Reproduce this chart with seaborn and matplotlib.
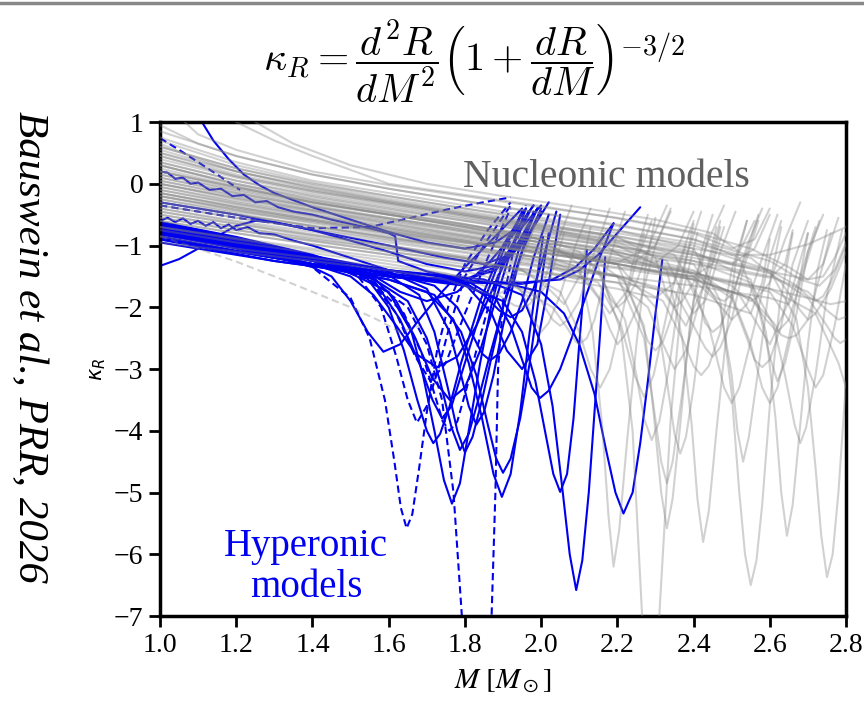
import matplotlib
matplotlib.use("Agg")
import matplotlib.pyplot as plt
from matplotlib.lines import Line2D
import pandas as pd
import seaborn as sns

# ---------------- data ----------------
x_ticks = [1.0, 1.2, 1.4, 1.6, 1.8, 2.0, 2.2, 2.4, 2.6, 2.8]
y_ticks = [1, 0, -1, -2, -3, -4, -5, -6, -7]

# Nucleonic models (gray): mass grid and curvature values of each model
nuc_mass = [
    [1.03, 1.1, 1.2, 1.4, 1.6, 1.8, 2.0, 2.2, 2.4, 2.55, 2.65, 2.7, 2.74, 2.77, 2.8],
    [1.0, 1.1, 1.2, 1.4, 1.6, 1.8, 2.0, 2.2, 2.4, 2.6, 2.68, 2.73, 2.77, 2.8],
    [1.0, 1.2, 1.4, 1.6, 1.8, 2.0, 2.2, 2.4, 2.47, 2.5, 2.52, 2.535, 2.55, 2.565, 2.58, 2.6, 2.625, 2.66],
    [1.0, 1.2, 1.4, 1.6, 1.8, 2.0, 2.2, 2.4, 2.6, 2.67, 2.7, 2.72, 2.735, 2.75, 2.765, 2.78, 2.8],
    [1.0, 1.2, 1.4, 1.6, 1.8, 2.0, 2.2, 2.4, 2.55, 2.59, 2.615, 2.63, 2.645, 2.66, 2.68, 2.7, 2.725, 2.75],
    [1.0, 1.2, 1.4, 1.6, 1.8, 2.0, 2.2, 2.33, 2.37, 2.395, 2.41, 2.425, 2.44, 2.46, 2.485, 2.51, 2.54],
    [1.0, 1.2, 1.4, 1.6, 1.8, 2.0, 2.1, 2.135, 2.16, 2.177, 2.19, 2.205, 2.225, 2.25, 2.275, 2.3],
    [1.0, 1.2, 1.4, 1.6, 1.8, 2.0, 2.15, 2.21, 2.24, 2.265, 2.287, 2.31, 2.34, 2.37, 2.41],
    [1.0, 1.2, 1.4, 1.6, 1.8, 2.0, 2.2, 2.27, 2.295, 2.315, 2.33, 2.345, 2.365, 2.39, 2.42, 2.45],
    [1.0, 1.2, 1.4, 1.6, 1.8, 2.0, 2.2, 2.3, 2.33, 2.35, 2.365, 2.38, 2.4, 2.43, 2.47],
    [1.0, 1.2, 1.4, 1.6, 1.8, 2.0, 2.15, 2.22, 2.25, 2.27, 2.29, 2.31, 2.335, 2.365, 2.4],
    [1.0, 1.2, 1.4, 1.6, 1.8, 2.0, 2.2, 2.27, 2.295, 2.315, 2.33, 2.345, 2.37, 2.4, 2.44],
    [1.0, 1.2, 1.4, 1.6, 1.8, 2.0, 2.2, 2.4, 2.55, 2.61, 2.64, 2.665, 2.68, 2.695, 2.72, 2.75, 2.79],
    [1.0, 1.2, 1.4, 1.6, 1.8, 2.0, 2.2, 2.4, 2.5, 2.55, 2.58, 2.6, 2.62, 2.65, 2.68, 2.72],
    [1.0, 1.2, 1.4, 1.6, 1.8, 2.0, 2.2, 2.38, 2.44, 2.48, 2.5, 2.52, 2.56, 2.6, 2.63],
    [1.0, 1.2, 1.4, 1.6, 1.8, 2.0, 2.2, 2.4, 2.5, 2.54, 2.56, 2.58, 2.6, 2.63, 2.66, 2.7],
    [1.0, 1.2, 1.4, 1.6, 1.8, 2.0, 2.2, 2.4, 2.6, 2.7, 2.75, 2.77, 2.785, 2.8],
    [1.0, 1.2, 1.4, 1.6, 1.8, 2.0, 2.2, 2.32, 2.37, 2.4, 2.42, 2.44, 2.47, 2.5, 2.54],
    [1.0, 1.2, 1.4, 1.6, 1.8, 2.0, 2.15, 2.21, 2.245, 2.27, 2.295, 2.33, 2.36, 2.4],
    [1.0, 1.2, 1.4, 1.6, 1.8, 1.95, 2.05, 2.1, 2.13, 2.155, 2.18, 2.21, 2.24, 2.28],
    [1.0, 1.2, 1.4, 1.6, 1.8, 1.95, 2.0, 2.03, 2.05, 2.07, 2.1, 2.14, 2.18],
    [1.0, 1.2, 1.4, 1.6, 1.75, 1.85, 1.9, 1.93, 1.95, 1.97, 2.0, 2.04, 2.08],
    [1.0, 1.2, 1.4, 1.6, 1.8, 2.0, 2.2, 2.4, 2.55, 2.63, 2.68, 2.7, 2.72, 2.76, 2.8],
    [1.0, 1.2, 1.4, 1.6, 1.8, 2.0, 2.2, 2.35, 2.41, 2.43, 2.45, 2.47, 2.5, 2.54, 2.58],
    [1.0, 1.2, 1.4, 1.6, 1.8, 2.0, 2.2, 2.3, 2.33, 2.35, 2.37, 2.4, 2.44, 2.48],
    [1.0, 1.2, 1.4, 1.6, 1.8, 2.0, 2.1, 2.16, 2.18, 2.2, 2.22, 2.25, 2.29, 2.33],
    [1.0, 1.2, 1.4, 1.6, 1.8, 2.0, 2.2, 2.4, 2.5, 2.53, 2.55, 2.57, 2.6, 2.64, 2.68],
    [1.0, 1.2, 1.4, 1.6, 1.8, 2.0, 2.2, 2.4, 2.55, 2.61, 2.63, 2.65, 2.67, 2.7, 2.74, 2.78],
    [1.0, 1.2, 1.4, 1.6, 1.8, 1.95, 2.03, 2.07, 2.09, 2.1, 2.12, 2.14, 2.18, 2.22],
    [1.0, 1.2, 1.4, 1.6, 1.75, 1.82, 1.86, 1.88, 1.9, 1.93, 1.97, 2.0],
    [1.0, 1.2, 1.4, 1.6, 1.8, 2.0, 2.2, 2.38, 2.43, 2.46, 2.48, 2.5, 2.53, 2.57],
    [1.0, 1.2, 1.4, 1.6, 1.8, 2.0, 2.15, 2.22, 2.26, 2.28, 2.3, 2.32, 2.34, 2.38, 2.42],
    [1.0, 1.2, 1.4, 1.6, 1.8, 2.0, 2.2, 2.4, 2.52, 2.57, 2.6, 2.62, 2.64, 2.67, 2.7, 2.74],
    [1.0, 1.2, 1.4, 1.6, 1.8, 2.0, 2.2, 2.4, 2.6, 2.67, 2.7, 2.72, 2.74, 2.76, 2.8],
    [1.0, 1.1, 1.2, 1.3, 1.4, 1.5, 1.57, 1.63, 1.68],
    [1.0, 1.2, 1.4, 1.6, 1.8, 1.95, 2.02, 2.06, 2.1, 2.13],
    [1.0, 1.2, 1.4, 1.6, 1.8, 2.0, 2.12, 2.18, 2.23, 2.27],
    [1.0, 1.2, 1.4, 1.6, 1.8, 2.0, 2.2, 2.32, 2.38, 2.43, 2.47],
    [1.0, 1.2, 1.4, 1.6, 1.8, 2.0, 2.2, 2.4, 2.52, 2.6, 2.65, 2.7],
    [1.0, 1.2, 1.4, 1.6, 1.8, 2.0, 2.2, 2.4, 2.6, 2.72, 2.78, 2.8],
    [1.0, 1.2, 1.4, 1.6, 1.8, 1.92, 1.98, 2.02, 2.06],
    [1.0, 1.1, 1.2, 1.4, 1.6, 1.8, 2.0, 2.15, 2.24, 2.3, 2.34],
    [1.0, 1.2, 1.4, 1.6, 1.8, 2.0, 2.2, 2.4, 2.5, 2.56, 2.6],
    [1.0, 1.2, 1.4, 1.6, 1.8, 2.0, 2.2, 2.3, 2.36, 2.4],
    [1.0, 1.1, 1.2, 1.3, 1.4, 1.6, 1.8, 2.0, 2.2, 2.4, 2.5, 2.56, 2.6],
    [1.0, 1.15, 1.25, 1.35, 1.5, 1.7, 1.9, 2.1, 2.3, 2.45, 2.52, 2.56],
    [1.0, 1.2, 1.4, 1.6, 1.8, 2.0, 2.2, 2.4, 2.5, 2.55, 2.58, 2.6],
    [1.0, 1.2, 1.4, 1.6, 1.8, 2.0, 2.2, 2.4, 2.6, 2.65, 2.68, 2.7],
    [1.0, 1.2, 1.4, 1.6, 1.8, 2.0, 2.2, 2.4, 2.6, 2.7, 2.76, 2.8],
    [1.0, 1.2, 1.4, 1.6, 1.8, 2.0, 2.2, 2.3, 2.35, 2.38],
    [1.0, 1.2, 1.4, 1.6, 1.8, 2.0, 2.2, 2.4, 2.45, 2.48],
    [1.0, 1.2, 1.4, 1.6, 1.8, 2.0, 2.2, 2.4, 2.6, 2.64, 2.66],
    [1.0, 1.2, 1.4, 1.6, 1.8, 2.0, 2.2, 2.4, 2.6, 2.7, 2.74, 2.76],
    [1.0, 1.2, 1.4, 1.6, 1.8, 2.0, 2.1, 2.14, 2.16],
    [1.0, 1.2, 1.4, 1.6, 1.8, 2.0, 2.2, 2.26, 2.29],
    [1.0, 1.2, 1.4, 1.6, 1.8, 2.0, 2.2, 2.35, 2.4, 2.43, 2.45, 2.47, 2.5, 2.53, 2.57],
    [1.0, 1.2, 1.4, 1.6, 1.8, 2.0, 2.2, 2.4, 2.6, 2.66, 2.7, 2.72, 2.74, 2.77, 2.8],
    [1.0, 1.2, 1.4, 1.6, 1.8, 2.0, 2.2, 2.4, 2.47, 2.5, 2.515, 2.53, 2.545, 2.57, 2.6, 2.63],
    [1.0, 1.2, 1.4, 1.6, 1.8, 2.0, 2.2, 2.4, 2.55, 2.59, 2.62, 2.65, 2.69, 2.73],
    [1.0, 1.2, 1.4, 1.6, 1.8, 2.0, 2.2, 2.33, 2.37, 2.4, 2.43, 2.47, 2.51],
    [1.0, 1.2, 1.4, 1.6, 1.8, 2.0, 2.1, 2.15, 2.18, 2.2, 2.22, 2.26, 2.3, 2.34],
    [1.0, 1.2, 1.4, 1.6, 1.8, 1.9, 1.95, 1.98, 2.0, 2.02, 2.05, 2.09, 2.13],
    [1.0, 1.2, 1.4, 1.6, 1.8, 2.0, 2.2, 2.4, 2.6, 2.7, 2.75, 2.78, 2.8],
    [1.0, 1.2, 1.4, 1.6, 1.8, 2.0, 2.2, 2.4, 2.46, 2.5, 2.54, 2.58, 2.62],
    [1.0, 1.2, 1.4, 1.6, 1.8, 2.0, 2.2, 2.4, 2.5, 2.6, 2.7, 2.8],
    [1.0, 1.2, 1.4, 1.6, 1.8, 2.0, 2.2, 2.28, 2.32, 2.35, 2.38, 2.42, 2.46],
]
nuc_kappa = [
    [1.2, 0.8, 0.55, 0.2, -0.02, -0.2, -0.38, -0.55, -0.78, -1.05, -1.35, -1.55, -1.5, -1.2, -0.8],
    [0.95, 0.65, 0.45, 0.15, -0.08, -0.28, -0.47, -0.66, -0.9, -1.25, -1.55, -1.65, -1.4, -0.95],
    [0.75, 0.35, 0.05, -0.15, -0.35, -0.55, -0.75, -1.05, -1.9, -3.4, -5.0, -6.0, -6.5, -6.1, -5.2, -3.6, -2.0, -0.8],
    [0.6, 0.25, 0.0, -0.2, -0.4, -0.6, -0.8, -1.0, -1.4, -2.2, -3.3, -4.6, -5.7, -6.37, -6.0, -5.0, -3.2],
    [0.5, 0.15, -0.1, -0.3, -0.5, -0.68, -0.85, -1.1, -1.55, -2.4, -3.8, -5.0, -5.7, -5.2, -3.9, -2.6, -1.4, -0.75],
    [0.4, 0.1, -0.15, -0.35, -0.55, -0.75, -1.0, -1.4, -2.5, -3.9, -5.1, -5.8, -5.3, -4.0, -2.5, -1.3, -0.6],
    [0.3, 0.0, -0.25, -0.45, -0.65, -0.9, -1.3, -2.4, -3.9, -5.4, -6.2, -5.6, -4.2, -2.6, -1.3, -0.55],
    [0.2, -0.05, -0.3, -0.5, -0.7, -0.95, -1.35, -2.4, -4.0, -7.0, -8.5, -7.0, -3.8, -1.8, -0.8],
    [0.1, -0.15, -0.38, -0.58, -0.78, -1.0, -1.3, -2.3, -3.7, -5.0, -5.58, -5.1, -3.9, -2.3, -1.1, -0.5],
    [0.0, -0.25, -0.45, -0.65, -0.85, -1.05, -1.3, -2.0, -3.2, -4.05, -4.37, -4.1, -3.3, -1.8, -0.7],
    [-0.1, -0.32, -0.52, -0.72, -0.92, -1.15, -1.45, -2.2, -3.1, -3.8, -4.15, -3.85, -3.0, -1.7, -0.65],
    [-0.2, -0.4, -0.6, -0.8, -1.0, -1.2, -1.5, -2.5, -3.6, -4.5, -4.85, -4.5, -3.4, -1.9, -0.8],
    [0.35, 0.05, -0.2, -0.4, -0.6, -0.8, -1.0, -1.25, -1.6, -2.3, -3.1, -3.9, -4.2, -3.95, -3.1, -1.8, -0.75],
    [0.25, -0.05, -0.3, -0.5, -0.7, -0.9, -1.1, -1.4, -1.8, -2.6, -3.3, -3.55, -3.3, -2.5, -1.5, -0.7],
    [0.15, -0.12, -0.35, -0.55, -0.75, -0.95, -1.15, -1.5, -2.3, -3.3, -3.55, -3.3, -2.3, -1.2, -0.6],
    [0.05, -0.2, -0.42, -0.62, -0.82, -1.0, -1.2, -1.45, -1.85, -2.5, -2.85, -2.97, -2.85, -2.3, -1.3, -0.6],
    [0.45, 0.12, -0.12, -0.32, -0.52, -0.72, -0.92, -1.15, -1.45, -1.85, -2.3, -2.5, -2.58, -2.52],
    [-0.3, -0.5, -0.68, -0.86, -1.05, -1.25, -1.5, -1.9, -2.5, -2.95, -3.1, -2.95, -2.4, -1.4, -0.6],
    [-0.4, -0.6, -0.78, -0.95, -1.12, -1.32, -1.6, -2.3, -3.1, -3.45, -3.1, -2.1, -1.3, -0.6],
    [-0.5, -0.7, -0.9, -1.05, -1.22, -1.4, -1.75, -2.4, -3.0, -3.3, -3.0, -2.2, -1.3, -0.5],
    [-0.6, -0.8, -0.98, -1.15, -1.35, -1.6, -1.9, -2.2, -2.3, -2.2, -1.9, -1.1, -0.4],
    [-0.75, -0.95, -1.12, -1.3, -1.45, -1.65, -1.85, -1.97, -2.0, -1.95, -1.7, -1.0, -0.35],
    [0.7, 0.3, 0.02, -0.2, -0.4, -0.58, -0.76, -0.96, -1.2, -1.6, -2.05, -2.2, -2.1, -1.7, -1.1],
    [0.55, 0.2, -0.06, -0.28, -0.48, -0.68, -0.88, -1.15, -1.8, -2.25, -2.4, -2.3, -1.9, -1.0, -0.4],
    [0.6, 0.25, -0.02, -0.24, -0.44, -0.64, -0.86, -1.2, -1.8, -2.0, -1.9, -1.6, -0.9, -0.35],
    [0.3, -0.02, -0.26, -0.46, -0.66, -0.88, -1.1, -1.5, -1.85, -2.0, -1.9, -1.6, -0.9, -0.35],
    [-0.05, -0.28, -0.48, -0.68, -0.86, -1.04, -1.22, -1.42, -1.65, -1.82, -1.9, -1.82, -1.6, -0.9, -0.3],
    [-0.2, -0.42, -0.6, -0.78, -0.95, -1.12, -1.3, -1.55, -1.85, -2.25, -2.45, -2.5, -2.45, -2.2, -1.3, -0.55],
    [-0.85, -1.05, -1.2, -1.35, -1.5, -1.7, -2.0, -2.35, -2.55, -2.6, -2.5, -2.2, -1.2, -0.45],
    [-0.95, -1.1, -1.25, -1.4, -1.55, -1.7, -1.78, -1.8, -1.75, -1.5, -0.9, -0.4],
    [0.1, -0.15, -0.36, -0.56, -0.76, -0.95, -1.15, -1.4, -1.65, -1.85, -1.9, -1.8, -1.3, -0.5],
    [0.0, -0.24, -0.44, -0.64, -0.84, -1.04, -1.26, -1.6, -2.2, -2.55, -2.7, -2.55, -2.2, -1.2, -0.45],
    [0.85, 0.45, 0.15, -0.08, -0.28, -0.48, -0.68, -0.9, -1.2, -2.0, -2.8, -3.2, -2.9, -2.1, -1.1, -0.5],
    [0.3, 0.0, -0.22, -0.42, -0.6, -0.78, -0.96, -1.15, -1.4, -1.65, -1.82, -1.9, -1.82, -1.6, -1.0],
    [-0.85, -1.05, -1.26, -1.5, -1.75, -2.0, -2.2, -2.4, -2.3],
    [-0.45, -0.65, -0.85, -1.02, -1.2, -1.4, -1.7, -1.95, -1.5, -0.7],
    [-0.25, -0.48, -0.68, -0.88, -1.06, -1.25, -1.55, -2.1, -1.7, -0.8],
    [-0.35, -0.55, -0.74, -0.92, -1.1, -1.28, -1.48, -1.75, -2.3, -1.6, -0.6],
    [-0.15, -0.36, -0.56, -0.74, -0.92, -1.1, -1.3, -1.52, -1.8, -2.6, -1.9, -0.8],
    [-0.05, -0.3, -0.5, -0.7, -0.88, -1.06, -1.25, -1.45, -1.7, -2.1, -2.9, -3.3],
    [-0.7, -0.9, -1.08, -1.25, -1.42, -1.6, -1.9, -1.6, -0.8],
    [0.65, 0.4, 0.2, -0.08, -0.3, -0.5, -0.7, -0.92, -1.3, -1.0, -0.45],
    [0.45, 0.12, -0.12, -0.32, -0.52, -0.72, -0.92, -1.12, -1.3, -1.05, -0.5],
    [0.2, -0.08, -0.3, -0.5, -0.7, -0.9, -1.1, -1.28, -1.0, -0.45],
    [2.2, 1.5, 1.0, 0.7, 0.45, 0.0, -0.18, -0.36, -0.56, -0.8, -1.05, -0.9, -0.4],
    [2.8, 1.6, 1.0, 0.65, 0.3, 0.0, -0.2, -0.38, -0.58, -0.8, -1.1, -0.6],
    [-0.6, -0.8, -0.98, -1.15, -1.3, -1.45, -1.6, -1.8, -2.0, -2.1, -1.6, -0.9],
    [-0.5, -0.7, -0.88, -1.05, -1.2, -1.35, -1.5, -1.65, -1.85, -1.95, -1.5, -0.8],
    [-0.35, -0.55, -0.72, -0.9, -1.05, -1.2, -1.35, -1.5, -1.7, -1.85, -1.95, -1.9],
    [-0.7, -0.88, -1.05, -1.2, -1.35, -1.5, -1.7, -1.85, -1.6, -1.0],
    [-0.25, -0.45, -0.62, -0.8, -0.96, -1.12, -1.3, -1.5, -1.3, -0.7],
    [0.0, -0.22, -0.42, -0.6, -0.78, -0.95, -1.12, -1.3, -1.52, -1.3, -0.75],
    [0.15, -0.1, -0.32, -0.5, -0.68, -0.85, -1.02, -1.2, -1.42, -1.55, -1.3, -0.8],
    [-0.55, -0.75, -0.92, -1.1, -1.25, -1.42, -1.55, -1.35, -0.85],
    [-0.15, -0.38, -0.58, -0.76, -0.93, -1.1, -1.28, -1.1, -0.6],
    [-0.45, -0.65, -0.83, -1.0, -1.17, -1.33, -1.5, -1.75, -2.3, -2.65, -2.8, -2.65, -2.2, -1.4, -0.6],
    [-0.1, -0.33, -0.53, -0.72, -0.9, -1.07, -1.25, -1.45, -1.75, -2.3, -3.0, -3.3, -3.1, -2.3, -1.3],
    [0.2, -0.06, -0.28, -0.48, -0.66, -0.84, -1.02, -1.3, -2.0, -3.1, -4.0, -4.5, -4.1, -3.0, -1.6, -0.7],
    [-0.3, -0.5, -0.69, -0.87, -1.03, -1.2, -1.37, -1.55, -1.85, -2.2, -2.4, -2.2, -1.4, -0.6],
    [0.35, 0.05, -0.18, -0.38, -0.57, -0.75, -0.95, -1.25, -1.75, -2.1, -1.9, -1.1, -0.45],
    [-0.2, -0.43, -0.64, -0.83, -1.0, -1.2, -1.45, -1.85, -2.35, -2.6, -2.45, -1.9, -1.0, -0.4],
    [-0.4, -0.62, -0.82, -1.0, -1.2, -1.4, -1.75, -2.2, -2.4, -2.25, -1.8, -1.0, -0.4],
    [0.05, -0.18, -0.38, -0.56, -0.73, -0.9, -1.07, -1.25, -1.5, -1.75, -2.05, -2.2, -2.15],
    [-0.15, -0.38, -0.58, -0.77, -0.95, -1.12, -1.3, -1.55, -1.9, -2.2, -1.95, -1.2, -0.5],
    [0.5, 0.2, -0.05, -0.27, -0.47, -0.66, -0.85, -1.05, -1.15, -1.15, -0.98, -0.7],
    [-0.55, -0.75, -0.93, -1.1, -1.26, -1.42, -1.6, -2.0, -2.6, -3.0, -2.7, -1.8, -0.7],
]
nuc_dashed = [34]          # index of the dashed nucleonic model

# Hyperonic models (blue)
hyp_mass = [
    [1.11, 1.14, 1.18, 1.22, 1.26, 1.3, 1.4, 1.5, 1.6, 1.7, 1.8, 1.88, 1.94, 1.98],
    [1.0, 1.05, 1.1, 1.15, 1.2, 1.25, 1.3, 1.4, 1.5, 1.6, 1.7, 1.8, 1.9, 1.96, 2.0],
    [1.0, 1.02, 1.04, 1.06, 1.08, 1.1, 1.13, 1.16, 1.19, 1.22, 1.25, 1.28, 1.31, 1.35, 1.4,
     1.45, 1.5, 1.55, 1.6, 1.617, 1.625, 1.7, 1.8, 1.88, 1.94, 1.99],
    [1.0, 1.02, 1.04, 1.06, 1.08, 1.1, 1.12, 1.14, 1.16, 1.18, 1.2, 1.23, 1.26, 1.3, 1.35,
     1.4, 1.5, 1.6, 1.7, 1.8, 1.88, 1.94, 1.99],
    [1.0, 1.2, 1.4, 1.5, 1.6, 1.66, 1.69, 1.72, 1.745, 1.766, 1.787, 1.81, 1.84, 1.87, 1.9, 1.95, 2.0],
    [1.0, 1.2, 1.4, 1.6, 1.7, 1.77, 1.81, 1.845, 1.875, 1.897, 1.92, 1.945, 1.97, 1.99, 2.005],
    [1.0, 1.2, 1.4, 1.6, 1.72, 1.79, 1.83, 1.86, 1.882, 1.9, 1.92, 1.945, 1.97, 1.995, 2.02],
    [1.0, 1.3, 1.6, 1.8, 1.9, 1.95, 1.985, 2.01, 2.032, 2.05, 2.068, 2.085, 2.1, 2.12],
    [1.0, 1.3, 1.6, 1.85, 1.95, 2.0, 2.03, 2.055, 2.075, 2.092, 2.108, 2.125, 2.14, 2.155, 2.168],
    [1.0, 1.3, 1.6, 1.9, 2.0, 2.06, 2.1, 2.14, 2.17, 2.195, 2.216, 2.24, 2.26, 2.28, 2.3, 2.318],
    [1.0, 1.3, 1.6, 1.8, 1.88, 1.92, 1.95, 1.975, 1.997, 2.02, 2.05, 2.08, 2.11, 2.15, 2.19],
    [1.0, 1.3, 1.6, 1.8, 1.95, 2.05, 2.1, 2.15, 2.2, 2.26],
    [1.0, 1.2, 1.4, 1.5, 1.55, 1.59, 1.615, 1.632, 1.647, 1.662, 1.68, 1.7, 1.727, 1.76, 1.8, 1.86, 1.92],
    [1.0, 1.2, 1.4, 1.55, 1.65, 1.7, 1.74, 1.77, 1.792, 1.81, 1.83, 1.85, 1.87, 1.88, 1.887, 1.9, 1.93, 1.97],
    [1.0, 1.2, 1.4, 1.52, 1.58, 1.62, 1.65, 1.674, 1.7, 1.73, 1.76, 1.8, 1.86, 1.92],
    [1.0, 1.2, 1.4, 1.55, 1.64, 1.69, 1.72, 1.742, 1.76, 1.78, 1.805, 1.83, 1.87, 1.92, 1.96],
    [1.0, 1.2, 1.4, 1.54, 1.6, 1.64, 1.675, 1.7, 1.717, 1.735, 1.76, 1.79, 1.84, 1.9, 1.96],
    [1.0, 1.2, 1.4, 1.55, 1.65, 1.7, 1.735, 1.765, 1.787, 1.81, 1.835, 1.86, 1.9, 1.95, 2.0],
    [1.0, 1.2, 1.4, 1.5, 1.56, 1.62, 1.67, 1.727, 1.78, 1.83, 1.88, 1.93, 1.97],
    [1.0, 1.2, 1.35, 1.45, 1.5, 1.545, 1.586, 1.63, 1.68, 1.74, 1.8, 1.88, 1.95],
    [1.0, 1.3, 1.6, 1.72, 1.78, 1.82, 1.845, 1.866, 1.89, 1.92, 1.95, 1.98, 2.02],
    [1.0, 1.3, 1.6, 1.8, 1.85, 1.89, 1.92, 1.95, 1.98, 2.01, 2.04],
    [1.0, 1.2, 1.4, 1.55, 1.62, 1.67, 1.715, 1.76, 1.8, 1.84, 1.88, 1.92, 1.96],
    [1.0, 1.05, 1.1, 1.15, 1.21],
    [1.0, 1.2, 1.4, 1.55, 1.665, 1.75, 1.83, 1.92],
    [1.0, 1.3, 1.6, 1.7, 1.76, 1.79, 1.81, 1.83, 1.85, 1.875, 1.9, 1.94, 1.98],
    [1.0, 1.2, 1.4, 1.56, 1.63, 1.68, 1.715, 1.74, 1.765, 1.8, 1.85, 1.9, 1.95],
    [1.0, 1.3, 1.6, 1.68, 1.72, 1.755, 1.78, 1.8, 1.82, 1.845, 1.87, 1.9, 1.94, 1.99],
    [1.0, 1.2, 1.4, 1.55, 1.62, 1.67, 1.71, 1.75, 1.8, 1.86, 1.92],
    [1.0, 1.3, 1.6, 1.8, 1.87, 1.91, 1.95, 1.99, 2.02, 2.05],
    [1.0, 1.2, 1.4, 1.55, 1.63, 1.7, 1.78, 1.86, 1.93, 1.98],
    [1.0, 1.2, 1.4, 1.6, 1.75, 1.85, 1.92, 1.97, 2.02],
    [1.0, 1.3, 1.6, 1.8, 1.95, 2.03, 2.09, 2.14, 2.19],
]
hyp_kappa = [
    [1.0, 0.7, 0.4, 0.15, -0.02, -0.15, -0.38, -0.58, -0.78, -0.95, -1.05, -0.95, -0.7, -0.35],
    [-1.33, -1.22, -1.05, -0.85, -0.68, -0.6, -0.62, -0.75, -0.92, -1.1, -1.3, -1.42, -1.3, -0.9, -0.45],
    [0.2, 0.18, 0.08, 0.1, 0.0, 0.02, -0.1, -0.08, -0.2, -0.18, -0.3, -0.28, -0.38, -0.45, -0.5,
     -0.58, -0.65, -0.72, -0.8, -0.85, -1.25, -1.42, -1.55, -1.4, -1.0, -0.4],
    [-0.6, -0.55, -0.62, -0.56, -0.65, -0.6, -0.68, -0.62, -0.72, -0.66, -0.75, -0.7, -0.8, -0.82,
     -0.92, -1.0, -1.2, -1.4, -1.52, -1.55, -1.35, -0.95, -0.4],
    [-0.7, -0.95, -1.25, -1.45, -1.75, -2.4, -3.1, -4.0, -4.8, -5.18, -4.85, -4.0, -2.9, -1.95, -1.25, -0.7, -0.35],
    [-0.75, -1.0, -1.3, -1.55, -1.75, -2.2, -2.9, -3.8, -4.7, -5.07, -4.7, -3.7, -2.4, -1.5, -0.86],
    [-0.8, -1.05, -1.33, -1.55, -1.8, -2.4, -3.1, -3.9, -4.45, -4.68, -4.45, -3.8, -2.9, -1.8, -0.8],
    [-0.85, -1.2, -1.5, -1.65, -1.9, -2.4, -3.2, -4.0, -4.7, -4.99, -4.7, -3.8, -2.6, -1.07],
    [-0.8, -1.1, -1.4, -1.55, -1.8, -2.6, -3.6, -4.9, -6.0, -6.58, -6.1, -5.0, -3.7, -2.4, -1.19],
    [-0.95, -1.25, -1.5, -1.6, -1.75, -2.1, -2.6, -3.4, -4.3, -5.0, -5.34, -5.0, -4.2, -3.2, -2.1, -1.23],
    [-0.7, -1.05, -1.4, -1.55, -1.85, -2.3, -2.85, -3.3, -3.47, -3.35, -3.0, -2.5, -1.95, -1.25, -0.64],
    [-0.9, -1.25, -1.5, -1.6, -1.6, -1.55, -1.4, -1.15, -0.8, -0.38],
    [-0.72, -1.0, -1.35, -1.85, -2.5, -3.5, -4.5, -5.25, -5.58, -5.35, -4.6, -3.7, -2.7, -1.9, -1.3, -0.75, -0.3],
    [-0.7, -0.95, -1.25, -1.55, -2.0, -2.6, -3.5, -5.0, -7.0, -8.5, -9.0, -8.5, -7.0, -5.0, -3.0, -1.9, -1.0, -0.4],
    [-0.65, -0.9, -1.2, -1.5, -2.0, -2.8, -3.5, -3.87, -3.6, -3.0, -2.3, -1.5, -0.9, -0.35],
    [-0.68, -0.92, -1.22, -1.55, -2.1, -2.8, -3.4, -3.85, -4.0, -3.85, -3.3, -2.7, -1.8, -0.9, -0.35],
    [-0.62, -0.88, -1.18, -1.5, -2.0, -2.7, -3.5, -4.0, -4.2, -4.05, -3.6, -2.9, -1.9, -1.0, -0.4],
    [-0.66, -0.9, -1.2, -1.5, -1.9, -2.5, -3.2, -3.95, -4.31, -4.05, -3.5, -2.9, -2.0, -1.1, -0.4],
    [-0.78, -1.02, -1.3, -1.5, -1.8, -2.3, -2.75, -2.97, -2.8, -2.3, -1.6, -0.95, -0.45],
    [-0.73, -0.98, -1.2, -1.5, -1.9, -2.4, -2.72, -2.6, -2.2, -1.75, -1.35, -0.85, -0.4],
    [-0.82, -1.15, -1.45, -1.65, -2.0, -2.45, -2.75, -2.86, -2.75, -2.4, -1.9, -1.2, -0.5],
    [-0.78, -1.1, -1.45, -1.6, -1.8, -2.05, -2.16, -2.05, -1.7, -1.1, -0.45],
    [-0.62, -0.86, -1.15, -1.45, -1.9, -2.5, -3.15, -3.5, -3.3, -2.7, -1.9, -1.1, -0.4],
    [0.74, 0.55, 0.35, 0.15, -0.1],
    [-0.35, -0.55, -0.72, -0.7, -0.54, -0.42, -0.32, -0.22],
    [-0.7, -1.05, -1.42, -1.7, -2.4, -3.1, -3.6, -3.9, -3.7, -3.1, -2.3, -1.3, -0.45],
    [-0.64, -0.9, -1.2, -1.55, -2.2, -2.9, -3.5, -3.8, -3.6, -2.9, -1.9, -1.1, -0.45],
    [-0.72, -1.08, -1.48, -1.8, -2.4, -3.3, -4.0, -4.35, -4.1, -3.5, -2.8, -2.0, -1.1, -0.4],
    [-0.66, -0.92, -1.22, -1.55, -2.1, -2.8, -3.2, -2.9, -2.1, -1.2, -0.4],
    [-0.9, -1.2, -1.5, -1.62, -2.1, -2.7, -3.0, -2.6, -1.6, -0.5],
    [-0.68, -0.92, -1.2, -1.45, -1.75, -1.9, -1.75, -1.3, -0.8, -0.35],
    [-0.3, -0.5, -0.75, -1.0, -1.2, -1.3, -1.15, -0.8, -0.3],
    [-0.88, -1.2, -1.5, -1.6, -1.62, -1.55, -1.35, -1.05, -0.64],
]
hyp_dashed = [12, 13, 14, 15, 23, 24, 28]

label_nuc = "Nucleonic models"
label_hyp = "Hyperonic\nmodels"
side_note = "Bauswein et al., PRR, 2026"


# ---------------- long-form tables for seaborn ----------------
def long_table(masses, kappas, dashed):
    rows = []
    for i, (ms, ks) in enumerate(zip(masses, kappas)):
        for m, k in zip(ms, ks):
            rows.append((i, m, k, "dashed" if i in dashed else "solid"))
    return pd.DataFrame(rows, columns=["model", "M", "kappa", "ls"])


df_nuc = long_table(nuc_mass, nuc_kappa, nuc_dashed)
df_hyp = long_table(hyp_mass, hyp_kappa, hyp_dashed)

# ---------------- figure ----------------
sns.set_style("ticks")
plt.rcParams["font.family"] = ["Liberation Serif", "DejaVu Serif"]
plt.rcParams["mathtext.fontset"] = "cm"
plt.rcParams["text.color"] = "black"
plt.rcParams["axes.labelcolor"] = "black"
plt.rcParams["xtick.color"] = "black"
plt.rcParams["ytick.color"] = "black"

fig = plt.figure(figsize=(8.64, 7.05), dpi=100)
ax = fig.add_axes([0.1852, 0.1262, 0.7940, 0.7007])

dash_map = {"solid": "", "dashed": (3.5, 2.0)}

sns.lineplot(data=df_hyp, x="M", y="kappa", units="model", estimator=None,
             style="ls", dashes=dash_map, color="#0000f0", linewidth=1.5,
             sort=False, legend=False, ax=ax, zorder=2)
sns.lineplot(data=df_nuc, x="M", y="kappa", units="model", estimator=None,
             style="ls", dashes=dash_map, color="gray", alpha=0.36, linewidth=1.5,
             sort=False, legend=False, ax=ax, zorder=3)

ax.set_xlim(1.0, 2.8)
ax.set_ylim(-7, 1)
ax.set_xticks(x_ticks)
ax.set_xticklabels([f"{t:.1f}" for t in x_ticks])
ax.set_yticks(y_ticks)
ax.set_yticklabels([("\u2212" + str(-t)) if t < 0 else str(t) for t in y_ticks])
ax.tick_params(axis="both", direction="out", length=8, width=2, labelsize=20,
               top=False, right=False, pad=4, colors="black")
for sp in ax.spines.values():
    sp.set_visible(True)
    sp.set_linewidth(2.5)
    sp.set_color("black")

ax.set_xlabel(r"$M\ [M_\odot]$", fontsize=21, math_fontfamily="stix", labelpad=7)
ax.set_ylabel(r"$\kappa_R$", fontsize=15, math_fontfamily="dejavusans", labelpad=4)

ax.text(1.795, -0.05, label_nuc, fontsize=28.5, color="#606060",
        ha="left", va="baseline", zorder=5)
ax.text(1.383, -6.2, label_hyp, fontsize=28, color="#0000f0",
        ha="center", va="center", linespacing=1.15, zorder=5)

fig.text(0.549, 0.912,
         r"$\kappa_R = \dfrac{d^2R}{dM^2}\left(1+\dfrac{dR}{dM}\right)^{-3/2}$",
         fontsize=29, ha="center", va="center")

fig.text(0.034, 0.508, side_note, fontsize=31, style="italic", rotation=-90,
         ha="center", va="center")

fig.add_artist(Line2D([0, 1], [0.9957, 0.9957], transform=fig.transFigure,
                      color="#888888", linewidth=2.5))

fig.savefig("out.png", dpi=100)
